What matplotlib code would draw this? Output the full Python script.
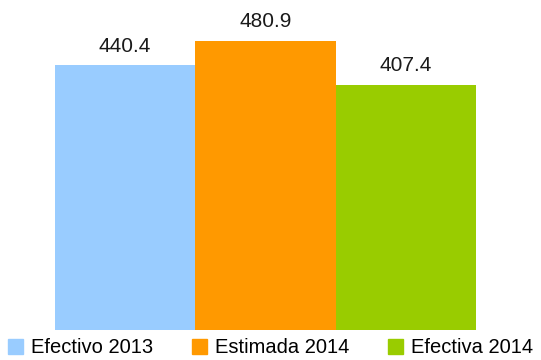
import matplotlib
matplotlib.use('Agg')
import matplotlib.pyplot as plt
from matplotlib.patches import Patch

# values per series
series = ['Efectivo 2013', 'Estimada 2014', 'Efectiva 2014']
values = [440.4, 480.9, 407.4]
colors = ['#99CCFF', '#FF9900', '#99CC00']

plt.rcParams['font.family'] = ['Liberation Sans', 'DejaVu Sans']

fig = plt.figure(figsize=(5.41, 3.6), dpi=100)
ax = fig.add_axes([55 / 541, 30 / 360, 421 / 541, 330 / 360])

x = list(range(len(values)))
bars = ax.bar(x, values, width=1.0, color=colors, linewidth=0)
for b, v in zip(bars, values):
    ax.annotate(f'{v:.1f}', (b.get_x() + b.get_width() / 2, v),
                xytext=(0, 7), textcoords='offset points',
                ha='center', va='bottom', fontsize=15, color='#1a1a1a')

ax.set_xlim(-0.5, 2.5)
ax.set_ylim(0, 549)
ax.axis('off')

handles = [Patch(color=c, label=s) for c, s in zip(colors, series)]
fig.legend(handles=handles, loc='lower center', bbox_to_anchor=(0.5, -0.026),
           ncol=3, frameon=False, fontsize=14.5, handlelength=0.75,
           handleheight=0.75, handletextpad=0.4, columnspacing=1.9,
           borderpad=0.1)

fig.savefig('out.png', dpi=100)
